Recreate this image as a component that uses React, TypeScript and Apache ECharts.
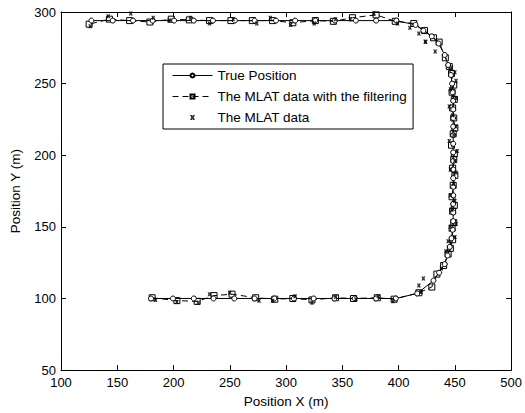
import React, { useEffect, useRef } from "react";
import * as echarts from "echarts";

// True trajectory
const trueX = [180, 199.5, 218, 235.5, 254, 272, 289.5, 307, 324.5, 343, 361, 380, 397.5,
  416.5, 431, 436, 441, 443.5, 445.5, 447, 448,
  448.5, 448.5, 448.5, 448.5, 448.5, 448.5, 448.5, 448.5, 448.5, 448.5, 448.5, 448.5, 448.5, 448.5, 448.5, 448, 447.5,
  446.5, 444, 441, 435.5, 429.5, 422, 415, 398,
  380, 362, 343.5, 326, 308, 291, 272, 254.5, 235, 218, 200.5, 181.5, 164, 146, 127];
const trueY = [100, 100, 100, 100, 100, 100, 100, 100, 100, 100, 100, 100, 100,
  103.5, 112.5, 118, 124, 130, 136, 142, 148,
  154, 160, 166, 172, 178, 184, 190, 196, 202, 208, 214, 220, 226, 232, 238, 244, 250,
  256, 263, 270, 278, 283, 287, 291, 294,
  294, 294, 294, 294, 294, 294, 294, 294, 294, 294, 294, 294, 294, 294, 294];

// MLAT data with the filtering
const filtX = [181, 203, 221, 236, 252, 273, 290, 306, 323, 344, 360, 381, 396,
  418, 429.5, 434, 440, 444, 446, 448, 447.5,
  449, 448, 449.5, 447.5, 448.5, 450, 448, 449, 449.5, 447, 448.5, 450, 449, 448, 449.5, 447.5, 449,
  447, 445, 441.5, 436, 431, 423, 413.5, 397,
  380, 359, 342, 326, 306, 288, 270, 251, 232, 214, 198, 179, 161, 143, 125];
const filtY = [100.5, 98.5, 98, 102, 103, 100.5, 99.5, 100, 99, 100.5, 100, 100.5, 99.5,
  104, 108, 117, 123, 131, 135, 141, 149,
  153, 161, 165, 171, 179, 186, 191, 197, 201, 207, 215, 219, 226, 233, 239, 244, 249,
  257, 262, 268, 279, 282, 287, 292, 293.5,
  298, 296, 293.5, 294, 292.5, 294, 294, 294, 294, 294.5, 295, 293, 294, 295, 291.5];

// The MLAT data
const mlatX = [184, 203, 222, 232, 250, 276, 288, 308, 323, 344, 362, 382, 395,
  420, 418, 422, 438, 442, 444, 450, 446,
  451, 447, 450, 446, 449, 451, 446, 450, 452, 445, 449, 451, 448, 445, 451, 446, 451,
  450, 447, 432.5, 423.7, 424, 418, 410, 399,
  378, 357, 344, 325, 304, 286, 274, 253, 232, 215, 196, 182, 162, 142, 126];
const mlatY = [99, 97.5, 97, 103, 104, 98.5, 98.5, 101.5, 97, 101, 99.5, 101.5, 98,
  104.5, 109, 114, 121, 133, 140, 143, 150,
  152, 162, 168, 172, 180, 188, 190, 196, 203, 210, 214, 220, 228, 234, 240, 246, 252,
  258, 261, 272.4, 279.4, 279, 285, 289, 292,
  299, 295, 295, 292, 291, 296, 292, 295, 292, 296, 294, 296, 299, 297, 290];

const seriesNames = ["True Position", "The MLAT data with the filtering", "The MLAT data"];
const xTicks = { min: 100, max: 500, interval: 50 };
const yTicks = { min: 50, max: 300, interval: 50 };

const zip = (xs: number[], ys: number[]) => xs.map((x, i) => [x, ys[i]]);

const FONT = "'Liberation Sans', Arial, sans-serif";
const X_PATH = "path://M0,0L4,0L5,2.5L6,0L10,0L7.5,5L10,10L6,10L5,7.5L4,10L0,10L2.5,5Z";

export default function App() {
  const ref = useRef<HTMLDivElement>(null);
  useEffect(() => {
    if (!ref.current) return;
    const chart = echarts.init(ref.current, null, { renderer: "svg" });
    const axisCommon = {
      axisLine: { show: true, onZero: false, lineStyle: { color: "#000", width: 1 } },
      axisTick: { show: true, inside: true, length: 5, lineStyle: { color: "#000" } },
      splitLine: { show: false },
    };
    chart.setOption({
      animation: false,
      backgroundColor: "#fff",
      textStyle: { fontFamily: FONT },
      grid: { left: 57, right: 11, top: 12, bottom: 41 },
      legend: {
        orient: "vertical",
        left: 163,
        top: 64,
        padding: [4, 6, 4, 9],
        itemGap: 6,
        itemWidth: 40,
        itemHeight: 5,
        borderColor: "#000",
        borderWidth: 1,
        backgroundColor: "#fff",
        lineStyle: { width: 1 },
        textStyle: { fontFamily: FONT, fontSize: 13.5, color: "#000", lineHeight: 15 },
        data: seriesNames,
      },
      xAxis: [
        {
          type: "value", ...xTicks, position: "bottom", ...axisCommon,
          axisLabel: { color: "#000", fontSize: 13, fontFamily: FONT, margin: 6 },
          name: "Position X (m)", nameLocation: "middle", nameGap: 23,
          nameTextStyle: { color: "#000", fontSize: 13.5, fontFamily: FONT },
        },
        {
          type: "value", ...xTicks, position: "top", ...axisCommon,
          axisLabel: { show: false },
        },
      ],
      yAxis: [
        {
          type: "value", ...yTicks, position: "left", ...axisCommon,
          axisLabel: { color: "#000", fontSize: 13, fontFamily: FONT, margin: 5 },
          name: "Position Y (m)", nameLocation: "middle", nameGap: 39,
          nameTextStyle: { color: "#000", fontSize: 13.5, fontFamily: FONT },
        },
        {
          type: "value", ...yTicks, position: "right", ...axisCommon,
          axisLabel: { show: false },
        },
      ],
      series: [
        {
          name: seriesNames[0],
          type: "line",
          data: zip(trueX, trueY),
          symbol: "circle",
          symbolSize: 5,
          showSymbol: true,
          lineStyle: { color: "#000", width: 1, type: "solid" },
          itemStyle: { color: "#fff", borderColor: "#000", borderWidth: 1 },
          z: 3,
        },
        {
          name: seriesNames[1],
          type: "line",
          data: zip(filtX, filtY),
          symbol: "rect",
          symbolSize: 6,
          showSymbol: true,
          lineStyle: { color: "#000", width: 1, type: [6, 4] },
          itemStyle: { color: "rgba(255,255,255,0)", borderColor: "#000", borderWidth: 1 },
          z: 2,
        },
        {
          name: seriesNames[2],
          type: "scatter",
          data: zip(mlatX, mlatY),
          symbol: X_PATH,
          symbolSize: 4,
          itemStyle: { color: "#000" },
          z: 4,
        },
      ],
    });
    return () => chart.dispose();
  }, []);
  return (
    <div
      ref={ref}
      style={{ position: "fixed", left: 0, top: 0, width: 525, height: 413 }}
    />
  );
}
